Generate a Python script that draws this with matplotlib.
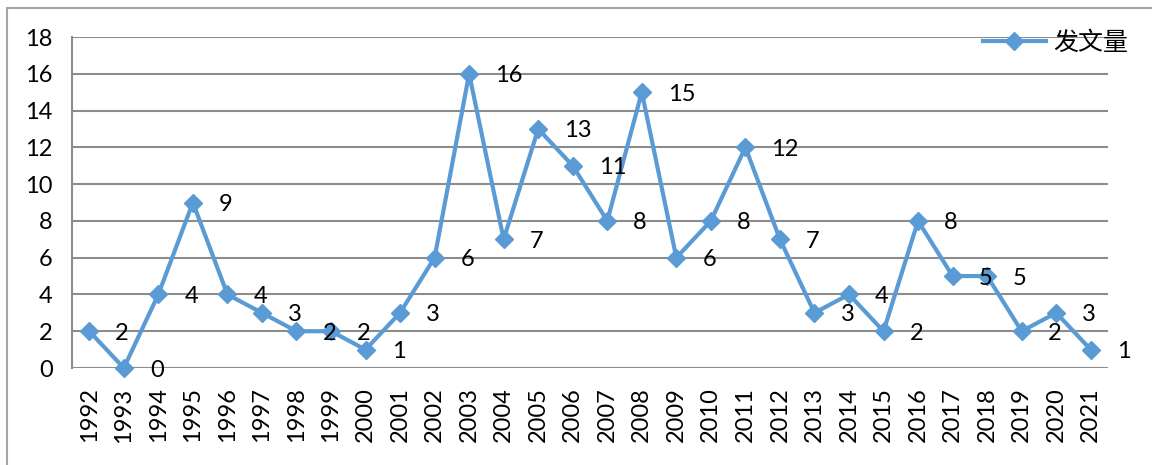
import matplotlib
matplotlib.use("Agg")
import matplotlib.pyplot as plt
from matplotlib.patches import Rectangle

years = ["1992", "1993", "1994", "1995", "1996", "1997", "1998", "1999", "2000", "2001",
         "2002", "2003", "2004", "2005", "2006", "2007", "2008", "2009", "2010", "2011",
         "2012", "2013", "2014", "2015", "2016", "2017", "2018", "2019", "2020", "2021"]
counts = [2, 0, 4, 9, 4, 3, 2, 2, 1, 3,
          6, 16, 7, 13, 11, 8, 15, 6, 8, 12,
          7, 3, 4, 2, 8, 5, 5, 2, 3, 1]
series_name = "发文量"
yticks = [0, 2, 4, 6, 8, 10, 12, 14, 16, 18]

plt.rcParams['font.family'] = ['Lato', 'DejaVu Sans']
W, H = 1152, 465
fig = plt.figure(figsize=(W / 100, H / 100), dpi=100)
ax = fig.add_axes([72 / W, (H - 368) / H, (1108 - 72) / W, (368 - 37) / H])

color = '#5B9BD5'
x = list(range(len(years)))
ax.plot(x, counts, color=color, lw=3, marker='D', markersize=9, label=series_name,
        zorder=3, clip_on=False)

for xi, v in zip(x, counts):
    ax.annotate(str(v), (xi, v), xytext=(26, -2), textcoords='offset pixels',
                ha='left', va='center', fontsize=17, color='black', zorder=4)

ax.set_xlim(-0.5, len(years) - 0.5)
ax.set_ylim(0, 18)
ax.set_yticks(yticks)
ax.set_yticklabels([str(t) for t in yticks], fontsize=17)
ax.set_xticks(x)
ax.set_xticklabels(years, rotation=90, fontsize=17)
ax.tick_params(axis='both', length=0)
ax.tick_params(axis='y', pad=14)
ax.tick_params(axis='x', pad=14)

ax.grid(axis='y', color='#8c8c8c', lw=1.5)
ax.set_axisbelow(True)
for s in ['top', 'right', 'bottom']:
    ax.spines[s].set_visible(False)
ax.spines['left'].set_color('#8c8c8c')
ax.spines['left'].set_linewidth(1.5)

leg = ax.legend(loc='upper right', bbox_to_anchor=(1128 / W, (H - 30) / H),
                bbox_transform=fig.transFigure, frameon=False, numpoints=1,
                handlelength=2.5, handletextpad=0.3, borderpad=0, borderaxespad=0,
                prop={'family': ['Noto Sans CJK SC'], 'size': 18})

fig.patches.append(Rectangle((7 / W, -0.1), 1.2, (H - 8) / H + 0.1, transform=fig.transFigure,
                             fill=False, edgecolor='#a6a6a6', lw=1.5, zorder=0))

fig.savefig('out.png', dpi=100)
